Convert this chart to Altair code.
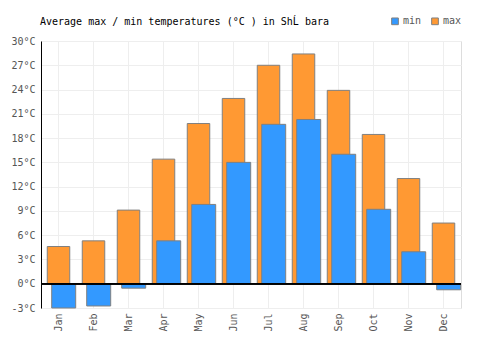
import altair as alt
import pandas as pd

months = ["Jan", "Feb", "Mar", "Apr", "May", "Jun", "Jul", "Aug", "Sep", "Oct", "Nov", "Dec"]
max_temps = [4.6, 5.3, 9.1, 15.4, 19.8, 22.9, 27.0, 28.4, 23.9, 18.45, 13.0, 7.5]
min_temps = [-3.0, -2.75, -0.55, 5.3, 9.8, 15.0, 19.7, 20.3, 16.0, 9.2, 3.95, -0.75]
y_ticks = [-3, 0, 3, 6, 9, 12, 15, 18, 21, 24, 27, 30]
series_names = ["min", "max"]
series_colors = ["#3399ff", "#ff9933"]

FONT = "DejaVu Sans Mono"

df_max = pd.DataFrame({"month": months, "temp": max_temps, "series": "max"})
df_min = pd.DataFrame({"month": months, "temp": min_temps, "series": "min"})

x_axis = alt.Axis(
    title=None, labelAngle=270, labelFont=FONT, labelFontSize=10,
    labelColor="#555555", domain=False, ticks=False, grid=True,
    gridColor="#eeeeee", labelPadding=5, labelOverlap=False,
    labelAlign="right", labelBaseline="middle",
)
y_axis = alt.Axis(
    title=None, values=y_ticks, labelExpr="datum.value + '°C'",
    labelFont=FONT, labelFontSize=10, labelColor="#555555",
    domain=True, domainColor="#000000", ticks=False, grid=True,
    gridColor="#eeeeee", labelPadding=6, labelOverlap=False,
)
y_scale = alt.Scale(domain=[-3, 30], nice=False)

x_enc = alt.X("month:N", sort=months,
              scale=alt.Scale(paddingInner=0, paddingOuter=0), axis=x_axis)
y_enc = alt.Y("temp:Q", scale=y_scale, axis=y_axis)
color_enc = alt.Color(
    "series:N",
    scale=alt.Scale(domain=series_names, range=series_colors),
    legend=alt.Legend(
        title=None, orient="none", legendX=349, legendY=-25, direction="horizontal",
        symbolType="square", symbolSize=45, symbolStrokeColor="#808080",
        symbolStrokeWidth=1, symbolOpacity=1, labelFont=FONT, labelFontSize=10,
        labelColor="#555555", columnPadding=7, labelOffset=3,
    ),
)

max_bars = alt.Chart(df_max).mark_bar(
    width=22.5, xOffset=0, stroke="#808080", strokeWidth=1, opacity=1
).encode(x=x_enc, y=y_enc, color=color_enc)

min_bars = alt.Chart(df_min).mark_bar(
    width=24, xOffset=5.2, stroke="#808080", strokeWidth=1, opacity=1
).encode(x=x_enc, y=y_enc, color=color_enc)

zero_line = alt.Chart(df_max).mark_rule(color="#000000", strokeWidth=1).encode(
    y=alt.YDatum(0, scale=y_scale, axis=y_axis)
)

chart = (
    alt.layer(max_bars, min_bars, zero_line)
    .properties(
        width=420,
        height=267,
        title=alt.TitleParams(
            "Average max / min temperatures (°C ) in ShĹ bara",
            anchor="start", font=FONT, fontSize=10, fontWeight="normal",
            color="#000000", offset=14, dx=-1, dy=25, frame="group",
        ),
        autosize=alt.AutoSizeParams(type="none"),
        padding={"left": 41, "top": 41, "right": 39, "bottom": 42},
    )
    .configure_view(stroke="#eeeeee")
    .configure(background="#ffffff")
)

chart.save("out.html", embed_options={"renderer": "svg", "actions": False})
